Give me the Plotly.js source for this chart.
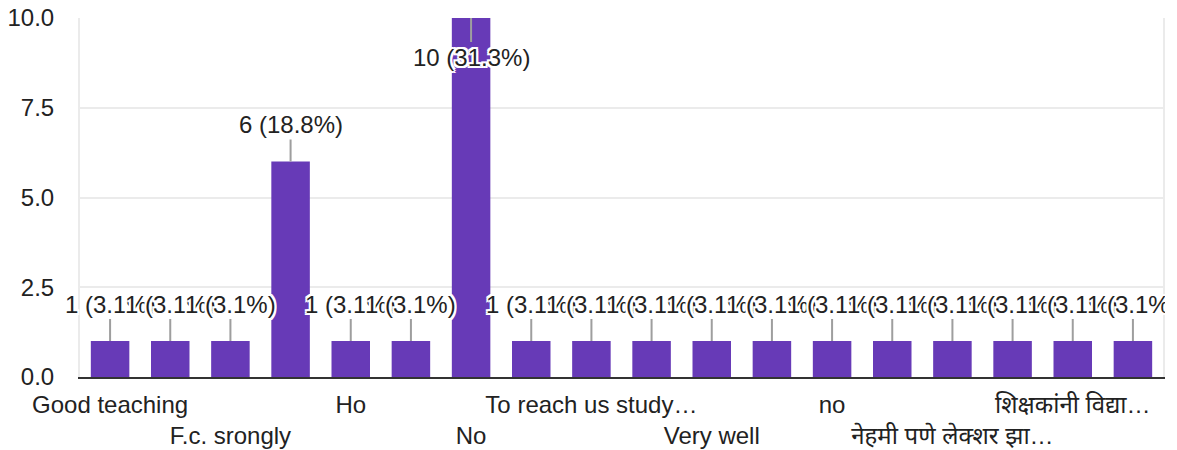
<!DOCTYPE html>
<html>
<head>
<meta charset="utf-8">
<script src="https://cdn.plot.ly/plotly-3.0.1.min.js"></script>
<style>html,body{margin:0;padding:0;background:#fff;}#wrap{width:1165px;height:450px;overflow:hidden;}#chart{width:1177px;height:450px;}</style>
</head>
<body>
<div id="wrap"><div id="chart"></div></div>
<script>
// Categories (bar order as in the reference; unlabeled ones are placeholders)
const categories = [
  "Good teaching", "Good", "F.c. srongly", "Nothing", "Ho", "Nice",
  "No", "Teaching is good", "To reach us study…", "Very good", "Very well", "Well",
  "no", "nothing", "नेहमी पणे लेक्शर झा…", "ok", "शिक्षकांनी विद्या…", "yes"
];
const values = [1, 1, 1, 6, 1, 1, 10, 1, 1, 1, 1, 1, 1, 1, 1, 1, 1, 1];

// Visible x tick labels (alternating rows)
const tickRow1 = ["Good teaching", "Ho", "To reach us study…", "no", "शिक्षकांनी विद्या…"];
const tickRow2 = ["F.c. srongly", "No", "Very well", "नेहमी पणे लेक्शर झा…"];
const yTicks = [0, 2.5, 5, 7.5, 10];

const total = values.reduce((a, b) => a + b, 0);
const yMax = 10;

const tickvals = [], ticktext = [];
tickRow1.forEach(t => { tickvals.push(t); ticktext.push(t); });
tickRow2.forEach(t => { tickvals.push(t); ticktext.push("\u00a0<br>" + t); });

const FONT = "Arial, 'Liberation Sans', 'Noto Sans', 'Noto Sans Devanagari', sans-serif";
const FS = 24;
const halo = "2px 0 0 #fff, -2px 0 0 #fff, 0 2px 0 #fff, 0 -2px 0 #fff, 2px 2px 0 #fff, -2px -2px 0 #fff, 2px -2px 0 #fff, -2px 2px 0 #fff";

const annotations = categories.map((c, i) => {
  const v = values[i];
  const pct = (v / total * 100).toFixed(1);
  return {
    x: c, y: v, xref: "x", yref: "y",
    text: v + " (" + pct + "%)",
    showarrow: true, arrowhead: 0, arrowwidth: 2, arrowcolor: "#9e9e9e",
    standoff: 0, ax: 0, ay: v >= yMax ? 39 : -37,
    font: {family: FONT, size: FS, color: "#222", shadow: halo}
  };
});

const trace = {
  type: "bar",
  x: categories,
  y: values,
  marker: {color: "#673ab7"},
  hoverinfo: "none"
};

const layout = {
  width: 1177, height: 450,
  margin: {l: 80, r: 14, t: 18, b: 73},
  paper_bgcolor: "#fff", plot_bgcolor: "#fff",
  bargap: 0.36,
  showlegend: false,
  font: {family: FONT, size: FS, color: "#222"},
  xaxis: {
    type: "category",
    categoryorder: "array", categoryarray: categories,
    range: [-0.5, categories.length - 0.5], autorange: false,
    tickmode: "array", tickvals: tickvals, ticktext: ticktext,
    showgrid: false, zeroline: false,
    showline: true, linecolor: "#333", linewidth: 2,
    ticks: "", tickangle: 0, automargin: false, ticklabelstandoff: 5,
    tickfont: {family: FONT, size: FS, color: "#222"}
  },
  yaxis: {
    range: [0, yMax], autorange: false, tickmode: "array", tickvals: yTicks,
    tickformat: ".1f",
    showgrid: true, gridcolor: "#ebebeb", gridwidth: 2,
    zeroline: false,
    showline: true, linecolor: "#ebebeb", linewidth: 2, mirror: true,
    ticks: "", ticklabelstandoff: 19, automargin: false,
    tickfont: {family: FONT, size: FS, color: "#222"}
  },
  annotations: annotations
};

Plotly.newPlot("chart", [trace], layout, {displayModeBar: false, staticPlot: true});
</script>
</body>
</html>
